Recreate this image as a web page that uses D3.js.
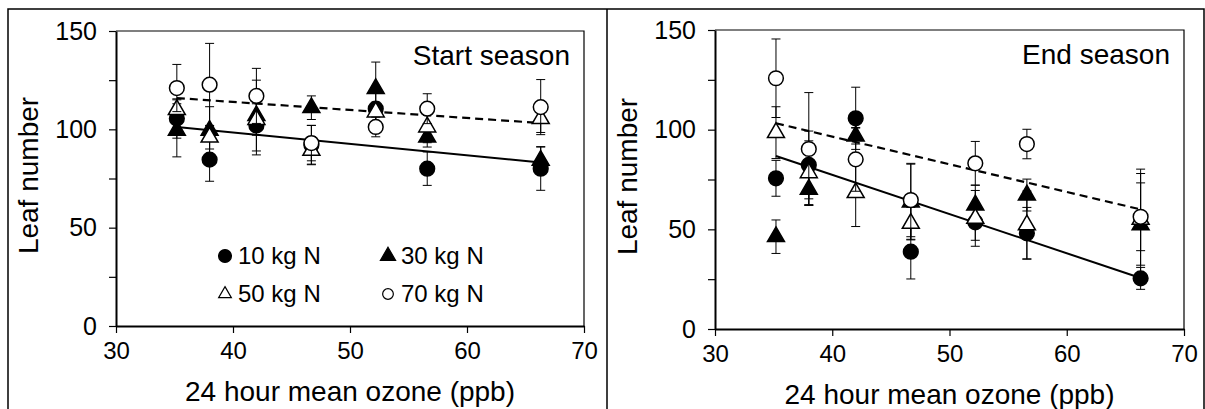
<!DOCTYPE html>
<html>
<head>
<meta charset="utf-8">
<script src="https://cdn.jsdelivr.net/npm/d3@7"></script>
<style>
  body { margin: 0; background: #fff; }
  svg { display: block; font-family: "Liberation Sans", Arial, sans-serif; }
</style>
</head>
<body>
<svg id="chart" width="1205" height="409"></svg>
<script>
// ozone levels (ppb) for the seven chambers
var ozone = [35.2, 38.0, 42.0, 46.7, 52.2, 56.6, 66.3];
var seriesNames = ["10 kg N", "30 kg N", "50 kg N", "70 kg N"];
var xTicks = [30, 40, 50, 60, 70];
var yTicks = [0, 25, 50, 75, 100, 125, 150];

// start season leaf numbers and error bars
var startN10 = [105.5, 84.6, 102, 92, 110.5, 80, 80];
var startN10Err = [10, 11, 15, 10, 8, 8.5, 11];
var startN30 = [99.5, 99.5, 107, 111, 120.7, 96, 84.2];
var startN30Err = [13.5, 12, 18, 6, 13.5, 5, 7];
var startN50 = [110, 96, 105, 89.3, 108.8, 101.2, 105.4];
var startN50Err = [5, 6, 8, 7, 5, 8, 7];
var startN70 = [121, 122.7, 117, 93, 101.2, 110.5, 111.3];
var startN70Err = [12, 21, 14, 9, 5, 7.6, 14];

// end season
var endN10 = [75.6, 82.3, 105.7, 38.8, 53.5, 48, 25.4];
var endN10Err = [9, 17, 15.6, 13.7, 9, 13, 5.5];
var endN30 = [46.3, 70.1, 96.8, 63.7, 62.2, 67.2, 52.2];
var endN30Err = [8.4, 8, 4, 19, 10, 8, 28];
var endN50 = [98.5, 78.4, 68.4, 53, 55.5, 52.2, 55];
var endN50Err = [13, 16, 17, 8, 14, 17, 23];
var endN70 = [125.8, 90.3, 85.1, 64.7, 83.1, 92.8, 56.3];
var endN70Err = [19.7, 28.3, 16, 18.4, 11, 7.4, 17];

// regression lines: value at first and last ozone level
var fitX = [35.2, 66.3];
var startSolid = [101.2, 83.1];
var startDashed = [115.9, 103.2];
var endSolid = [86.8, 25.6];
var endDashed = [103.2, 60];

var svg = d3.select("#chart");

// outer table frame
svg.append("path")
  .attr("d", "M8,409V9H1204V409M607,9V409")
  .attr("fill", "none")
  .attr("stroke", "#000")
  .attr("stroke-width", 1.5);

var panels = [
  { left: 116, right: 584, top: 31, bottom: 326, label: "Start season",
    vals: [startN10, startN30, startN50, startN70],
    errs: [startN10Err, startN30Err, startN50Err, startN70Err],
    solid: startSolid, dashed: startDashed, legend: true },
  { left: 715, right: 1184, top: 30, bottom: 329, label: "End season",
    vals: [endN10, endN30, endN50, endN70],
    errs: [endN10Err, endN30Err, endN50Err, endN70Err],
    solid: endSolid, dashed: endDashed, legend: false }
];

var circle = d3.symbol().type(d3.symbolCircle).size(170);
var tri = d3.symbol().type(d3.symbolTriangle).size(125);
var markers = [
  { path: circle(), fill: "#000" },
  { path: tri(), fill: "#000" },
  { path: tri(), fill: "#fff" },
  { path: circle(), fill: "#fff" }
];

panels.forEach(function(p) {
  var x = d3.scaleLinear().domain([30, 70]).range([p.left, p.right]);
  var y = d3.scaleLinear().domain([0, 150]).range([p.bottom, p.top]);
  var g = svg.append("g");

  // plot frame (top & right)
  g.append("path")
    .attr("d", "M" + p.left + "," + p.top + "H" + p.right + "V" + p.bottom)
    .attr("fill", "none").attr("stroke", "#000").attr("stroke-width", 1.2);

  var yAxis = g.append("g")
    .attr("transform", "translate(" + p.left + ",0)")
    .call(d3.axisLeft(y).tickValues(yTicks).tickSizeInner(7).tickSizeOuter(0)
      .tickPadding(12)
      .tickFormat(function(d) { return d % 50 === 0 ? d : ""; }));
  var xAxis = g.append("g")
    .attr("transform", "translate(0," + p.bottom + ")")
    .call(d3.axisBottom(x).tickValues(xTicks).tickSizeInner(7).tickSizeOuter(0)
      .tickPadding(9));
  [xAxis, yAxis].forEach(function(a) {
    a.select(".domain").attr("stroke-width", 2);
    a.selectAll(".tick line").attr("stroke-width", 1.2);
    a.selectAll("text").attr("font-size", 24).attr("fill", "#000")
      .attr("font-family", "Liberation Sans, Arial, sans-serif");
  });
  yAxis.selectAll("text").attr("font-size", 25);

  // axis titles
  g.append("text")
    .attr("x", (p.left + p.right) / 2).attr("y", p.bottom + 75)
    .attr("text-anchor", "middle").attr("font-size", 28)
    .text("24 hour mean ozone (ppb)");
  g.append("text")
    .attr("transform", "translate(" + (p.left - 78) + "," + ((p.top + p.bottom) / 2 - 3) + ") rotate(-90)")
    .attr("text-anchor", "middle").attr("font-size", 28)
    .text("Leaf number");

  g.append("text")
    .attr("x", p.right - 14).attr("y", p.top + 34)
    .attr("text-anchor", "end").attr("font-size", 28)
    .text(p.label);

  // regression lines
  var line = d3.line().x(function(d) { return x(d[0]); }).y(function(d) { return y(d[1]); });
  g.append("path")
    .attr("d", line(fitX.map(function(v, i) { return [v, p.solid[i]]; })))
    .attr("stroke", "#000").attr("stroke-width", 2).attr("fill", "none");
  g.append("path")
    .attr("d", line(fitX.map(function(v, i) { return [v, p.dashed[i]]; })))
    .attr("stroke", "#000").attr("stroke-width", 2.2).attr("fill", "none")
    .attr("stroke-dasharray", "8,5");

  // series: error bars then markers
  p.vals.forEach(function(vals, s) {
    var sg = g.append("g");
    var pts = vals.map(function(v, i) { return { x: ozone[i], v: v, e: p.errs[s][i] }; });
    sg.selectAll(".eb").data(pts).enter().append("path")
      .attr("d", function(d) {
        var cx = x(d.x), y0 = y(d.v - d.e), y1 = y(d.v + d.e);
        return "M" + cx + "," + y0 + "V" + y1 +
          "M" + (cx - 4.5) + "," + y0 + "H" + (cx + 4.5) +
          "M" + (cx - 4.5) + "," + y1 + "H" + (cx + 4.5);
      })
      .attr("stroke", "#000").attr("stroke-width", 1).attr("fill", "none");
    sg.selectAll(".mk").data(pts).enter().append("path")
      .attr("transform", function(d) { return "translate(" + x(d.x) + "," + y(d.v) + ")"; })
      .attr("d", markers[s].path)
      .attr("fill", markers[s].fill)
      .attr("stroke", "#000").attr("stroke-width", 1.5);
  });

  if (p.legend) {
    var lg = g.append("g");
    var pos = [[225, 256], [388, 256], [225, 294], [388, 294]];
    var legSym = [
      d3.symbol().type(d3.symbolCircle).size(130)(),
      d3.symbol().type(d3.symbolTriangle).size(100)(),
      d3.symbol().type(d3.symbolTriangle).size(70)(),
      d3.symbol().type(d3.symbolCircle).size(90)()
    ];
    seriesNames.forEach(function(name, s) {
      lg.append("path")
        .attr("transform", "translate(" + pos[s][0] + "," + pos[s][1] + ")")
        .attr("d", legSym[s])
        .attr("fill", markers[s].fill)
        .attr("stroke", "#000").attr("stroke-width", 1.2);
      lg.append("text")
        .attr("x", pos[s][0] + 13).attr("y", pos[s][1] + 8)
        .attr("font-size", 24)
        .text(name);
    });
  }
});
</script>
</body>
</html>
